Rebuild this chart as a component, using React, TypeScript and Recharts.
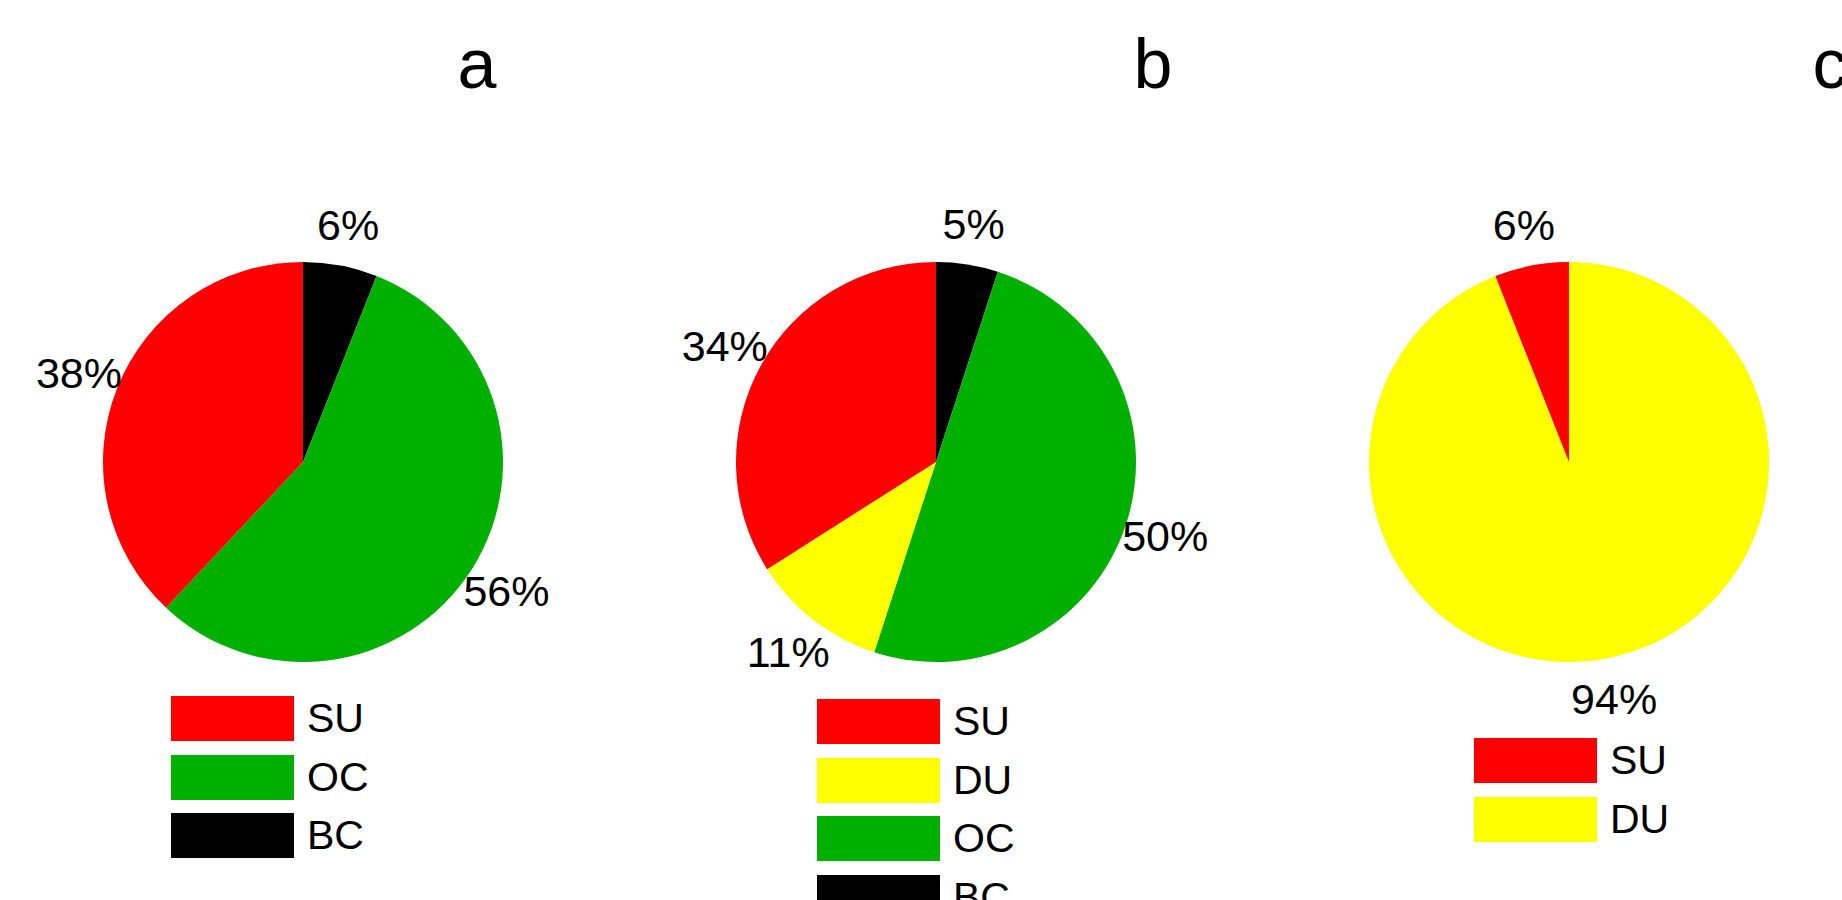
import React from "react";
import { Cell, Pie, PieChart } from "recharts";

const RAD = Math.PI / 180;
const FONT = "'Liberation Sans', Arial, sans-serif";

const colors: Record<string, string> = {
  SU: "#ff0000",
  DU: "#ffff00",
  OC: "#00b000",
  BC: "#000000",
};

// slice order is clockwise from 12 o'clock
const namesA = ["BC", "OC", "SU"];
const valuesA = [6, 56, 38];
const legendA = ["SU", "OC", "BC"];

const namesB = ["BC", "OC", "DU", "SU"];
const valuesB = [5, 50, 11, 34];
const legendB = ["SU", "DU", "OC", "BC"];

const namesC = ["DU", "SU"];
const valuesC = [94, 6];
const legendC = ["SU", "DU"];

const panelTitles = ["a", "b", "c"];

function toRows(names: string[], values: number[]) {
  return names.map((name, i) => ({ name, value: values[i] }));
}

function renderLabel(props: any) {
  const { cx, cy, midAngle, outerRadius, value } = props;
  const r = outerRadius + 41;
  const x = cx + r * Math.cos(-midAngle * RAD);
  const y = cy + r * Math.sin(-midAngle * RAD);
  return (
    <text
      x={x}
      y={y}
      textAnchor="middle"
      dominantBaseline="central"
      fill="#000"
      fontSize={43}
      fontFamily={FONT}
    >
      {`${value}%`}
    </text>
  );
}

function Legend({ items, left, top }: { items: string[]; left: number; top: number }) {
  return (
    <div style={{ position: "absolute", left, top }}>
      {items.map((name, i) => (
        <div
          key={name}
          style={{
            position: "absolute",
            top: i * 58.5,
            left: 0,
            display: "flex",
            alignItems: "center",
            height: 45,
            whiteSpace: "nowrap",
          }}
        >
          <div style={{ width: 123, height: 45, background: colors[name] }} />
          <span style={{ marginLeft: 13, fontSize: 41, fontFamily: FONT, lineHeight: 1, color: "#000" }}>
            {name}
          </span>
        </div>
      ))}
    </div>
  );
}

const pies = [
  { rows: toRows(namesA, valuesA), cx: 303 },
  { rows: toRows(namesB, valuesB), cx: 936 },
  { rows: toRows(namesC, valuesC), cx: 1569 },
];

export default function App() {
  return (
    <div
      style={{
        position: "absolute",
        left: 0,
        top: 0,
        width: 1842,
        height: 900,
        overflow: "hidden",
        background: "#fff",
      }}
    >
      <PieChart width={1842} height={900} margin={{ top: 0, right: 0, bottom: 0, left: 0 }}>
        {pies.map((p, k) => (
          <Pie
            key={k}
            data={p.rows}
            dataKey="value"
            nameKey="name"
            cx={p.cx}
            cy={462}
            outerRadius={200}
            startAngle={90}
            endAngle={-270}
            stroke="none"
            label={renderLabel}
            labelLine={false}
            isAnimationActive={false}
          >
            {p.rows.map((r) => (
              <Cell key={r.name} fill={colors[r.name]} />
            ))}
          </Pie>
        ))}
      </PieChart>

      {[477, 1153, 1830].map((x, i) => (
        <div
          key={panelTitles[i]}
          style={{
            position: "absolute",
            left: x - 40,
            width: 80,
            top: 24,
            textAlign: "center",
            fontSize: 70,
            lineHeight: "80px",
            fontFamily: FONT,
            color: "#000",
          }}
        >
          {panelTitles[i]}
        </div>
      ))}

      <Legend items={legendA} left={171} top={696} />
      <Legend items={legendB} left={817} top={699} />
      <Legend items={legendC} left={1474} top={738} />
    </div>
  );
}
